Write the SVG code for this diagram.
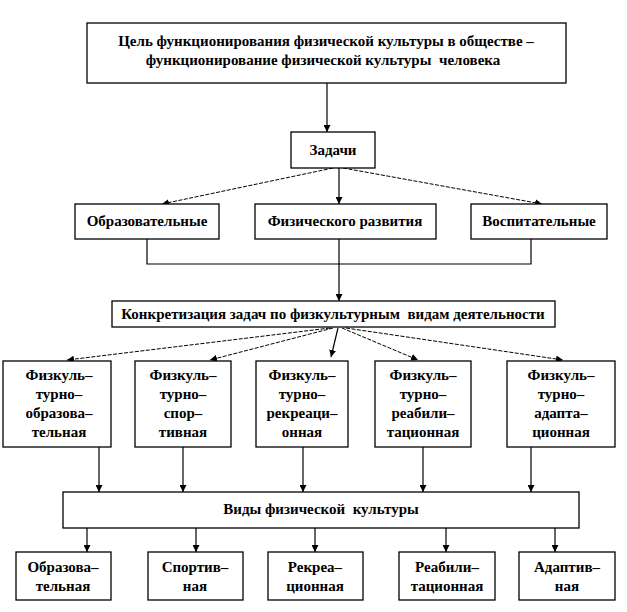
<svg xmlns="http://www.w3.org/2000/svg" width="627" height="612" viewBox="0 0 627 612">
<defs>
<marker id="ah" viewBox="0 0 8 8" refX="8" refY="4" markerWidth="7" markerHeight="7" markerUnits="userSpaceOnUse" orient="auto">
<path d="M0,0 L8,4 L0,8 Z" fill="#000"/>
</marker>
<style>
rect{fill:#fff;stroke:#000;stroke-width:1.3}
text{font-weight:bold;font-size:15px;text-anchor:middle;fill:#000}
.c line,.c path{stroke:#000;stroke-width:1.2;fill:none}
.c .d{stroke-dasharray:4 1.5;stroke-width:1}
</style>
</defs>
<rect x="0" y="0" width="627" height="612" style="fill:#fff;stroke:none"/>
<g class="c" id="connectors">
<line x1="327" y1="83" x2="327" y2="132" marker-end="url(#ah)"/>
<line class="d" x1="333" y1="168" x2="162" y2="204" marker-end="url(#ah)"/>
<line x1="339" y1="168" x2="339" y2="204" marker-end="url(#ah)"/>
<line class="d" x1="343" y1="168" x2="542" y2="204" marker-end="url(#ah)"/>
<path d="M147,239 V264 H531 V239"/>
<line x1="339" y1="239" x2="339" y2="301" marker-end="url(#ah)"/>
<line class="d" x1="330" y1="328" x2="67" y2="360" marker-end="url(#ah)"/>
<line class="d" x1="333" y1="328" x2="210" y2="360" marker-end="url(#ah)"/>
<line x1="338" y1="328" x2="331" y2="357" marker-end="url(#ah)"/>
<line class="d" x1="342" y1="328" x2="418" y2="360" marker-end="url(#ah)"/>
<line class="d" x1="346" y1="328" x2="563" y2="360" marker-end="url(#ah)"/>
<line x1="99" y1="447" x2="99" y2="492" marker-end="url(#ah)"/>
<line x1="183" y1="447" x2="183" y2="492" marker-end="url(#ah)"/>
<line x1="303" y1="447" x2="303" y2="492" marker-end="url(#ah)"/>
<line x1="423" y1="447" x2="423" y2="492" marker-end="url(#ah)"/>
<line x1="531" y1="447" x2="531" y2="492" marker-end="url(#ah)"/>
<line x1="87" y1="528" x2="87" y2="552" marker-end="url(#ah)"/>
<line x1="196" y1="528" x2="196" y2="552" marker-end="url(#ah)"/>
<line x1="315" y1="528" x2="315" y2="552" marker-end="url(#ah)"/>
<line x1="446" y1="528" x2="446" y2="552" marker-end="url(#ah)"/>
<line x1="555" y1="528" x2="555" y2="552" marker-end="url(#ah)"/>
</g>
<g font-family="'Liberation Serif', 'Times New Roman', serif">
<g id="goal"><rect x="87" y="23" width="479" height="60"/>
<text x="326" y="46">Цель функционирования физической культуры в обществе –</text>
<text x="323" y="65" xml:space="preserve">функционирование физической культуры  человека</text></g>
<g id="tasks"><rect x="291" y="132" width="84" height="36"/><text x="333" y="155">Задачи</text></g>
<g id="edu"><rect x="75" y="204" width="144" height="35"/><text x="147" y="226">Образовательные</text></g>
<g id="phys"><rect x="255" y="204" width="181" height="35"/><text x="345" y="226">Физического развития</text></g>
<g id="upbr"><rect x="471" y="204" width="136" height="35"/><text x="539" y="226">Воспитательные</text></g>
<g id="concr"><rect x="112" y="301" width="443" height="26"/><text x="333" y="319" xml:space="preserve">Конкретизация задач по физкультурным  видам деятельности</text></g>
<g id="a1"><rect x="3" y="361" width="108" height="86"/>
<text x="59" y="380">Физкуль–</text><text x="59" y="399">турно–</text><text x="59" y="418">образова–</text><text x="59" y="437">тельная</text></g>
<g id="a2"><rect x="135" y="361" width="96" height="86"/>
<text x="183" y="380">Физкуль–</text><text x="183" y="399">турно–</text><text x="183" y="418">спор–</text><text x="183" y="437">тивная</text></g>
<g id="a3"><rect x="256" y="361" width="92" height="86"/>
<text x="302" y="380">Физкуль–</text><text x="302" y="399">турно–</text><text x="302" y="418">рекреаци–</text><text x="302" y="437">онная</text></g>
<g id="a4"><rect x="375" y="361" width="96" height="86"/>
<text x="423" y="380">Физкуль–</text><text x="423" y="399">турно–</text><text x="423" y="418">реабили–</text><text x="423" y="437">тационная</text></g>
<g id="a5"><rect x="507" y="361" width="108" height="86"/>
<text x="561" y="380">Физкуль–</text><text x="561" y="399">турно–</text><text x="561" y="418">адапта–</text><text x="561" y="437">ционная</text></g>
<g id="kinds"><rect x="63" y="492" width="516" height="36"/><text x="321" y="514" xml:space="preserve">Виды физической  культуры</text></g>
<g id="k1"><rect x="16" y="552" width="95" height="48"/><text x="63" y="572">Образова–</text><text x="63" y="591">тельная</text></g>
<g id="k2"><rect x="148" y="552" width="95" height="48"/><text x="195" y="572">Спортив–</text><text x="195" y="591">ная</text></g>
<g id="k3"><rect x="268" y="552" width="95" height="48"/><text x="315" y="572">Рекреа–</text><text x="315" y="591">ционная</text></g>
<g id="k4"><rect x="399" y="552" width="96" height="48"/><text x="447" y="572">Реабили–</text><text x="447" y="591">тационная</text></g>
<g id="k5"><rect x="519" y="552" width="96" height="48"/><text x="567" y="572">Адаптив–</text><text x="567" y="591">ная</text></g>
</g>
</svg>
